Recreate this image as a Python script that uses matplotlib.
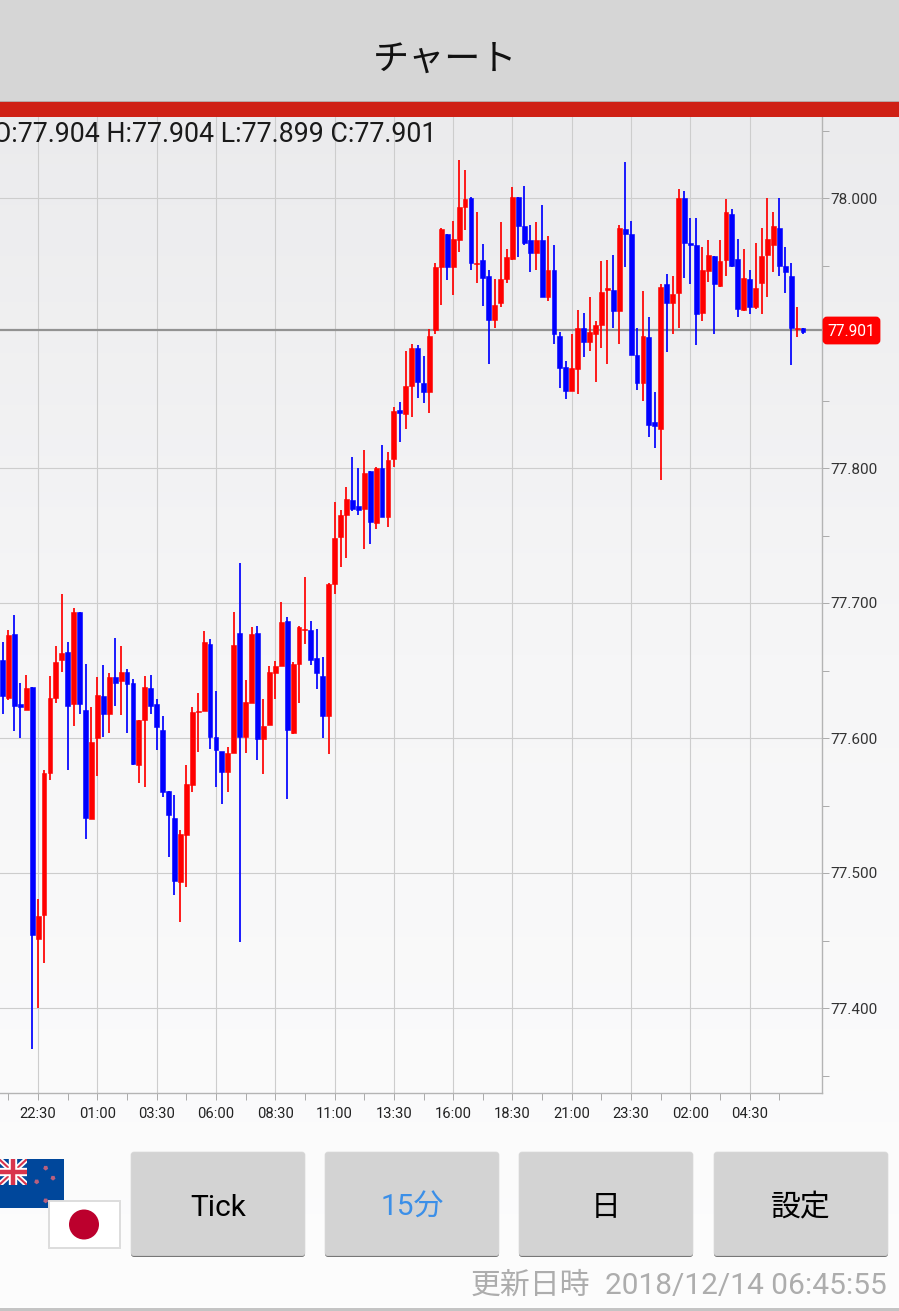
import numpy as np
import matplotlib
matplotlib.use('Agg')
import matplotlib.pyplot as plt
from matplotlib.patches import Rectangle, FancyBboxPatch, Circle, RegularPolygon

plt.rcParams['font.family'] = ['Roboto', 'Noto Sans CJK JP', 'DejaVu Sans']

# 15分足 NZD/JPY
highs = [77.671, 77.680, 77.691, 77.641, 77.647, 77.638, 77.481, 77.576, 77.646, 77.668,
         77.707, 77.671, 77.696, 77.693, 77.655, 77.623, 77.645, 77.654, 77.648, 77.674,
         77.668, 77.651, 77.644, 77.613, 77.646, 77.647, 77.629, 77.616, 77.561, 77.558,
         77.532, 77.580, 77.623, 77.633, 77.679, 77.673, 77.635, 77.590, 77.593, 77.693,
         77.730, 77.643, 77.682, 77.683, 77.629, 77.653, 77.657, 77.701, 77.690, 77.656,
         77.683, 77.719, 77.687, 77.681, 77.660, 77.715, 77.775, 77.769, 77.786, 77.808,
         77.800, 77.813, 77.798, 77.801, 77.817, 77.812, 77.845, 77.849, 77.887, 77.892,
         77.891, 77.883, 77.903, 77.952, 77.978, 77.973, 77.983, 78.028, 78.021, 78.001,
         77.990, 77.966, 77.947, 77.940, 77.982, 77.962, 78.008, 78.001, 78.009, 77.980,
         77.982, 77.995, 77.972, 77.965, 77.901, 77.879, 77.899, 77.917, 77.915, 77.927,
         77.909, 77.953, 77.954, 77.958, 77.980, 78.027, 77.983, 77.904, 77.931, 77.912,
         77.856, 77.936, 77.944, 77.942, 78.007, 78.005, 77.985, 77.985, 77.964, 77.969,
         77.957, 77.969, 77.999, 77.992, 77.970, 77.962, 77.947, 77.967, 77.978, 78.000,
         77.990, 78.000, 77.964, 77.952, 77.919, 77.904]
lows = [77.618, 77.628, 77.605, 77.600, 77.621, 77.370, 77.400, 77.433, 77.569, 77.626,
        77.649, 77.576, 77.609, 77.618, 77.525, 77.540, 77.572, 77.601, 77.604, 77.624,
        77.617, 77.604, 77.580, 77.567, 77.564, 77.618, 77.591, 77.556, 77.512, 77.484,
        77.464, 77.490, 77.560, 77.590, 77.620, 77.592, 77.564, 77.551, 77.560, 77.589,
        77.449, 77.589, 77.626, 77.584, 77.573, 77.610, 77.629, 77.653, 77.555, 77.603,
        77.626, 77.670, 77.654, 77.636, 77.600, 77.588, 77.707, 77.727, 77.733, 77.768,
        77.765, 77.740, 77.744, 77.755, 77.764, 77.756, 77.801, 77.819, 77.829, 77.838,
        77.852, 77.848, 77.841, 77.899, 77.921, 77.939, 77.928, 77.960, 77.976, 77.947,
        77.937, 77.920, 77.877, 77.904, 77.919, 77.937, 77.954, 77.956, 77.965, 77.945,
        77.947, 77.927, 77.924, 77.892, 77.859, 77.851, 77.857, 77.855, 77.882, 77.887,
        77.864, 77.889, 77.877, 77.904, 77.892, 77.949, 77.884, 77.858, 77.850, 77.823,
        77.815, 77.791, 77.886, 77.899, 77.904, 77.941, 77.936, 77.891, 77.909, 77.938,
        77.899, 77.934, 77.942, 77.949, 77.912, 77.916, 77.914, 77.918, 77.914, 77.927,
        77.945, 77.942, 77.930, 77.876, 77.897, 77.899]
opens = [77.658, 77.630, 77.677, 77.625, 77.621, 77.638, 77.451, 77.469, 77.574, 77.630,
         77.658, 77.664, 77.625, 77.693, 77.621, 77.540, 77.600, 77.631, 77.618, 77.645,
         77.642, 77.649, 77.641, 77.580, 77.613, 77.637, 77.625, 77.606, 77.561, 77.541,
         77.493, 77.528, 77.565, 77.619, 77.620, 77.670, 77.601, 77.590, 77.575, 77.589,
         77.678, 77.601, 77.626, 77.678, 77.599, 77.610, 77.648, 77.653, 77.687, 77.604,
         77.655, 77.680, 77.680, 77.659, 77.646, 77.616, 77.714, 77.749, 77.765, 77.776,
         77.772, 77.770, 77.798, 77.759, 77.800, 77.764, 77.807, 77.843, 77.840, 77.861,
         77.889, 77.863, 77.856, 77.902, 77.949, 77.973, 77.949, 77.969, 77.993, 78.000,
         77.951, 77.954, 77.942, 77.910, 77.922, 77.940, 77.955, 78.001, 77.979, 77.969,
         77.959, 77.969, 77.927, 77.947, 77.898, 77.875, 77.857, 77.873, 77.904, 77.893,
         77.899, 77.906, 77.932, 77.932, 77.916, 77.977, 77.973, 77.884, 77.863, 77.897,
         77.834, 77.829, 77.936, 77.922, 77.930, 78.000, 77.967, 77.965, 77.915, 77.946,
         77.957, 77.935, 77.954, 77.988, 77.955, 77.917, 77.940, 77.919, 77.937, 77.958,
         77.965, 77.978, 77.950, 77.942, 77.903, 77.904]
closes = [77.631, 77.676, 77.624, 77.623, 77.637, 77.454, 77.468, 77.574, 77.630, 77.656,
          77.663, 77.624, 77.693, 77.625, 77.541, 77.597, 77.632, 77.618, 77.645, 77.641,
          77.649, 77.640, 77.581, 77.613, 77.638, 77.624, 77.608, 77.560, 77.543, 77.494,
          77.529, 77.566, 77.619, 77.620, 77.671, 77.601, 77.591, 77.575, 77.589, 77.669,
          77.601, 77.627, 77.677, 77.599, 77.609, 77.649, 77.653, 77.686, 77.606, 77.655,
          77.682, 77.681, 77.658, 77.648, 77.616, 77.714, 77.748, 77.765, 77.777, 77.770,
          77.769, 77.796, 77.760, 77.800, 77.764, 77.806, 77.842, 77.841, 77.861, 77.889,
          77.864, 77.856, 77.898, 77.949, 77.977, 77.949, 77.970, 77.993, 77.999, 77.952,
          77.952, 77.941, 77.910, 77.921, 77.940, 77.956, 78.001, 77.979, 77.967, 77.959,
          77.969, 77.927, 77.947, 77.899, 77.874, 77.857, 77.874, 77.904, 77.893, 77.901,
          77.906, 77.930, 77.933, 77.916, 77.978, 77.973, 77.884, 77.863, 77.898, 77.832,
          77.831, 77.934, 77.922, 77.929, 78.000, 77.967, 77.965, 77.914, 77.947, 77.958,
          77.936, 77.953, 77.990, 77.950, 77.918, 77.941, 77.919, 77.933, 77.957, 77.970,
          77.979, 77.950, 77.945, 77.904, 77.904, 77.901]

time_labels = ['22:30', '01:00', '03:30', '06:00', '08:30', '11:00', '13:30', '16:00',
               '18:30', '21:00', '23:30', '02:00', '04:30']
price_ticks = [77.4, 77.5, 77.6, 77.7, 77.8, 77.9, 78.0]
last_price = 77.901
ohlc_text = 'O:77.904 H:77.904 L:77.899 C:77.901'
button_labels = ['Tick', '15分', '日', '設定']
update_label = '更新日時'
update_time = '2018/12/14 06:45:55'

W, H = 899, 1311
fig = plt.figure(figsize=(W / 100, H / 100), dpi=100)

# 背景グラデーション
bg = fig.add_axes([0, 0, 1, 1], zorder=0)
bg.imshow(np.linspace(0, 1, 256).reshape(-1, 1), aspect='auto', cmap=matplotlib.colors.LinearSegmentedColormap.from_list('bg', ['#e9e9eb', '#f6f6f7', '#fdfdfd']),
          extent=[0, W, H, 0])
bg.axis('off')

# チャート本体
left, right, top, bottom = 0, 822, 117, 1093
ax = fig.add_axes([left / W, 1 - bottom / H, (right - left) / W, (bottom - top) / H], zorder=1)
ax.patch.set_alpha(0)
x0, dx = 2.5, 5.93
ax.set_xlim(-x0 / dx, (right - x0) / dx)
ax.set_ylim(78 - (bottom - 198) / 1350, 78 + (198 - top) / 1350)

x = np.arange(len(closes))
o, c, hi, lo = map(np.array, (opens, closes, highs, lows))
colors = ['#ff0000' if c[i] >= o[i] else '#0000ff' for i in x]
ax.vlines(x, lo, hi, colors=colors, linewidth=1.25, zorder=3)
ax.bar(x, np.abs(c - o), bottom=np.minimum(o, c), width=0.82, color=colors, edgecolor=colors,
       linewidth=0.4, zorder=3)

major_x = np.arange(6, 127, 10)
minor_x = np.arange(1, 132, 10)
ax.set_xticks(major_x)
ax.set_xticklabels(time_labels)
ax.set_xticks(minor_x, minor=True)
ax.set_yticks(price_ticks)
# 77.900 は現在値ラベルの下に隠れる
ax.set_yticklabels(['' if p == 77.9 else '%.3f' % p for p in price_ticks])
ax.set_yticks(np.arange(77.35, 78.06, 0.1), minor=True)
ax.yaxis.tick_right()
ax.grid(True, which='major', color='#cdcdcd', linewidth=0.8, zorder=1)
ax.get_ygridlines()[price_ticks.index(77.9)].set_visible(False)
ax.set_axisbelow(True)
ax.tick_params(axis='x', which='both', length=5, width=0.7, color='#aaaaaa', labelsize=10.6, labelcolor='#222222', pad=5)
ax.tick_params(axis='y', which='both', length=5, width=0.7, color='#aaaaaa', labelsize=11, labelcolor='#333333', pad=1)
for s in ['top', 'left']:
    ax.spines[s].set_visible(False)
for s in ['right', 'bottom']:
    ax.spines[s].set_color('#b4b4b4')
    ax.spines[s].set_linewidth(1.0)
ax.axhline(last_price + 0.001, color='#929292', linewidth=1.6, zorder=2.5)

# 画面部品はピクセル座標で
ui = fig.add_axes([0, 0, 1, 1], zorder=2)
ui.set_xlim(0, W)
ui.set_ylim(H, 0)
ui.axis('off')
ui.patch.set_alpha(0)

ui.add_patch(Rectangle((0, 0), W, 101, color='#d6d6d6', lw=0))
ui.add_patch(Rectangle((0, 101), W, 1.5, color='#b8a8a6', lw=0))
ui.add_patch(Rectangle((0, 102), W, 15, color='#cf2015', lw=0))
ui.text(445, 60, 'チャート', ha='center', va='center', fontsize=26, color='#111111', family=['Noto Sans CJK JP'])
ui.text(436, 134, ohlc_text, ha='right', va='center', fontsize=19.3, color='#1a1a1a')

# 現在値ラベル
ui.add_patch(FancyBboxPatch((824, 318), 55, 25, boxstyle='round,pad=0,rounding_size=3', facecolor='#ff0000',
                            edgecolor='#ff0000', linewidth=2))
ui.text(851.5, 331, '%.3f' % last_price, ha='center', va='center', fontsize=11.2, color='white')

# 通貨の国旗
ui.add_patch(Rectangle((-1, 1159), 65, 49, color='#00479b', lw=0))
canton = Rectangle((-1, 1159), 28, 26, transform=ui.transData)
for (xs, ys, col, lw) in [([-1, 27], [1159, 1185], 'white', 4), ([-1, 27], [1185, 1159], 'white', 4),
                          ([-1, 27], [1159, 1185], '#d8344c', 1.5), ([-1, 27], [1185, 1159], '#d8344c', 1.5),
                          ([13, 13], [1159, 1185], 'white', 6), ([-1, 27], [1172, 1172], 'white', 6),
                          ([13, 13], [1159, 1185], '#d8344c', 3.2), ([-1, 27], [1172, 1172], '#d8344c', 3.2)]:
    line, = ui.plot(xs, ys, color=col, lw=lw, solid_capstyle='butt')
    line.set_clip_path(canton)
for sx, sy in [(45.7, 1168), (36.7, 1181.7), (53, 1178), (45.7, 1200.7)]:
    ui.add_patch(RegularPolygon((sx, sy), 5, radius=2.6, facecolor='#b8607e', edgecolor='none'))
ui.add_patch(Rectangle((48.5, 1201), 71, 47, facecolor='white', edgecolor='#dddddd', linewidth=1.4))
ui.add_patch(Circle((84, 1224.5), 15, color='#bc002d', lw=0))

# ボタン
button_x = [131, 325, 519, 714]
for bx, label in zip(button_x, button_labels):
    ui.add_patch(FancyBboxPatch((bx, 1153), 174, 104, boxstyle='round,pad=0,rounding_size=3', facecolor='#777777',
                                edgecolor='none'))
    ui.add_patch(FancyBboxPatch((bx, 1152), 174, 103.5, boxstyle='round,pad=0,rounding_size=3', facecolor='#d3d3d3',
                                edgecolor='#dadada', linewidth=0.5))
    col = '#3b8fe8' if label == '15分' else '#000000'
    ui.text(bx + 87, 1208, label, ha='center', va='center', fontsize=21.5, color=col)

ui.text(590, 1286, update_label, ha='right', va='center', fontsize=21.5, color='#adadad')
ui.text(887, 1286, update_time, ha='right', va='center', fontsize=21.5, color='#adadad')
ui.add_patch(Rectangle((0, 1308), W, 3, color='#c4c4c4', lw=0))

fig.savefig('out.png', dpi=100)
